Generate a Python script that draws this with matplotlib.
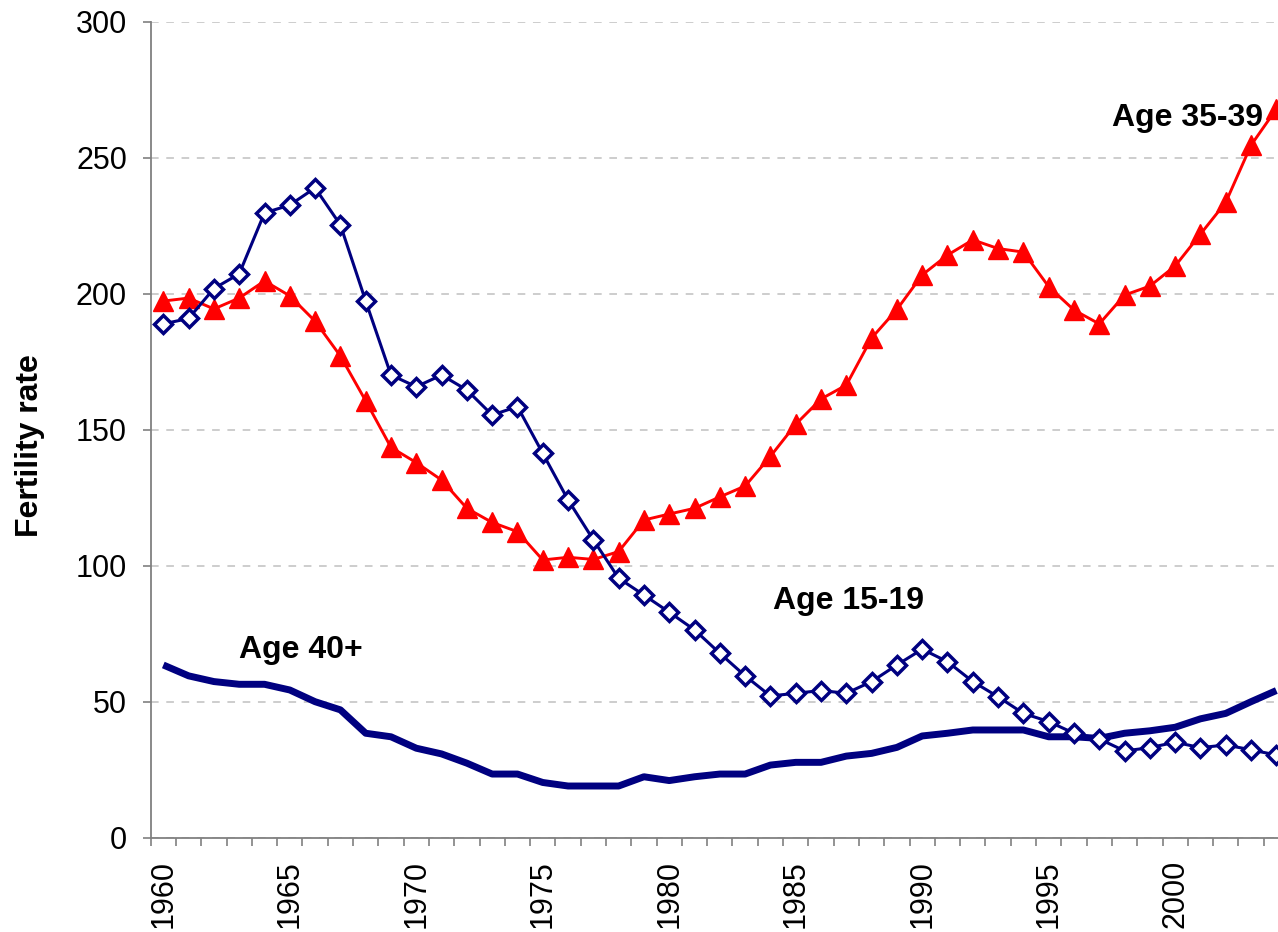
import numpy as np
import matplotlib
matplotlib.use("Agg")
import matplotlib.pyplot as plt

plt.rcParams['font.family'] = ['Liberation Sans', 'DejaVu Sans']

# Données
annees = list(range(1960, 2005))

age_15_19 = [189.0, 191.0, 202.0, 207.4, 229.8, 232.7, 239.0, 225.4, 197.4, 170.2,
             165.9, 170.2, 164.7, 155.5, 158.6, 141.4, 124.3, 109.6, 95.5, 89.3,
             83.0, 76.5, 67.9, 59.6, 52.2, 53.2, 54.2, 53.2, 57.5, 63.6,
             69.4, 64.8, 57.5, 51.9, 45.8, 42.8, 38.5, 36.4, 32.0, 33.2,
             35.2, 33.2, 34.2, 32.4, 30.5]

age_35_39 = [197.4, 198.5, 194.5, 198.5, 204.8, 199.3, 190.0, 177.2, 160.7, 143.6,
             138.0, 131.6, 121.2, 116.0, 112.6, 102.2, 103.2, 102.4, 105.3, 116.9,
             119.1, 121.2, 125.4, 129.4, 140.3, 152.1, 161.4, 166.5, 183.8, 194.3,
             207.0, 214.3, 219.9, 216.7, 215.4, 202.7, 194.1, 189.0, 199.6, 202.9,
             210.3, 222.0, 233.7, 254.7, 268.0]

age_40_plus = [63.6, 59.6, 57.5, 56.5, 56.5, 54.4, 50.1, 47.1, 38.5, 37.2,
               33.0, 30.9, 27.5, 23.5, 23.5, 20.4, 19.1, 19.1, 19.1, 22.5,
               21.1, 22.5, 23.5, 23.5, 26.8, 27.8, 27.8, 30.1, 31.1, 33.3,
               37.5, 38.5, 39.7, 39.7, 39.7, 37.2, 37.2, 36.6, 38.5, 39.4,
               40.7, 43.8, 45.8, 50.1, 54.2]

etiquettes = ["Age 40+", "Age 15-19", "Age 35-39"]
pos_etiquettes = [(1965.45, 69), (1987.1, 87), (2000.5, 264.7)]

marine = "#000080"
rouge = "#FF0000"

fig = plt.figure(figsize=(12.78, 9.32), dpi=100)
ax = fig.add_axes([0.1179, 0.1009, 0.8907, 0.8755])

ax.plot(annees, age_40_plus, color=marine, lw=5, zorder=2, solid_capstyle='butt')
ax.plot(annees, age_35_39, color=rouge, lw=2.1, marker='^', markersize=15,
        markerfacecolor=rouge, markeredgecolor=rouge, markeredgewidth=1, zorder=3)
ax.plot(annees, age_15_19, color=marine, lw=2.2, marker='D', markersize=9.5,
        markerfacecolor='white', markeredgecolor=marine, markeredgewidth=2.5, zorder=4)

for texte, (x, y) in zip(etiquettes, pos_etiquettes):
    ax.text(x, y, texte, fontsize=23, fontweight='bold', ha='center', va='center',
            zorder=5)

ax.set_xlim(annees[0] - 0.5, annees[-1] + 0.5)
ax.set_ylim(0, 300)

ax.set_yticks(np.arange(0, 301, 50))
ax.tick_params(axis='y', direction='out', length=6, width=1.2, color='#808080',
               labelsize=22, pad=11)
ax.yaxis.grid(True, color='#c0c0c0', linestyle=(0, (5, 5)), linewidth=1.1)
ax.set_axisbelow(True)

ax.set_xticks(annees[::5])
ax.set_xticklabels([str(a) for a in annees[::5]], rotation=90)
ax.set_xticks(np.arange(annees[0] - 0.5, annees[-1] + 1, 1), minor=True)
ax.tick_params(axis='x', which='major', length=0, labelsize=22, pad=16)
ax.tick_params(axis='x', which='minor', direction='out', length=6, width=1.2,
               color='#808080')

for cote in ['top', 'right']:
    ax.spines[cote].set_visible(False)
for cote in ['left', 'bottom']:
    ax.spines[cote].set_color('#808080')
    ax.spines[cote].set_linewidth(1.3)

fig.text(0.0235, 0.522, "Fertility rate", rotation=90, fontsize=23,
         fontweight='bold', ha='center', va='center')

fig.savefig("out.png", dpi=100)
